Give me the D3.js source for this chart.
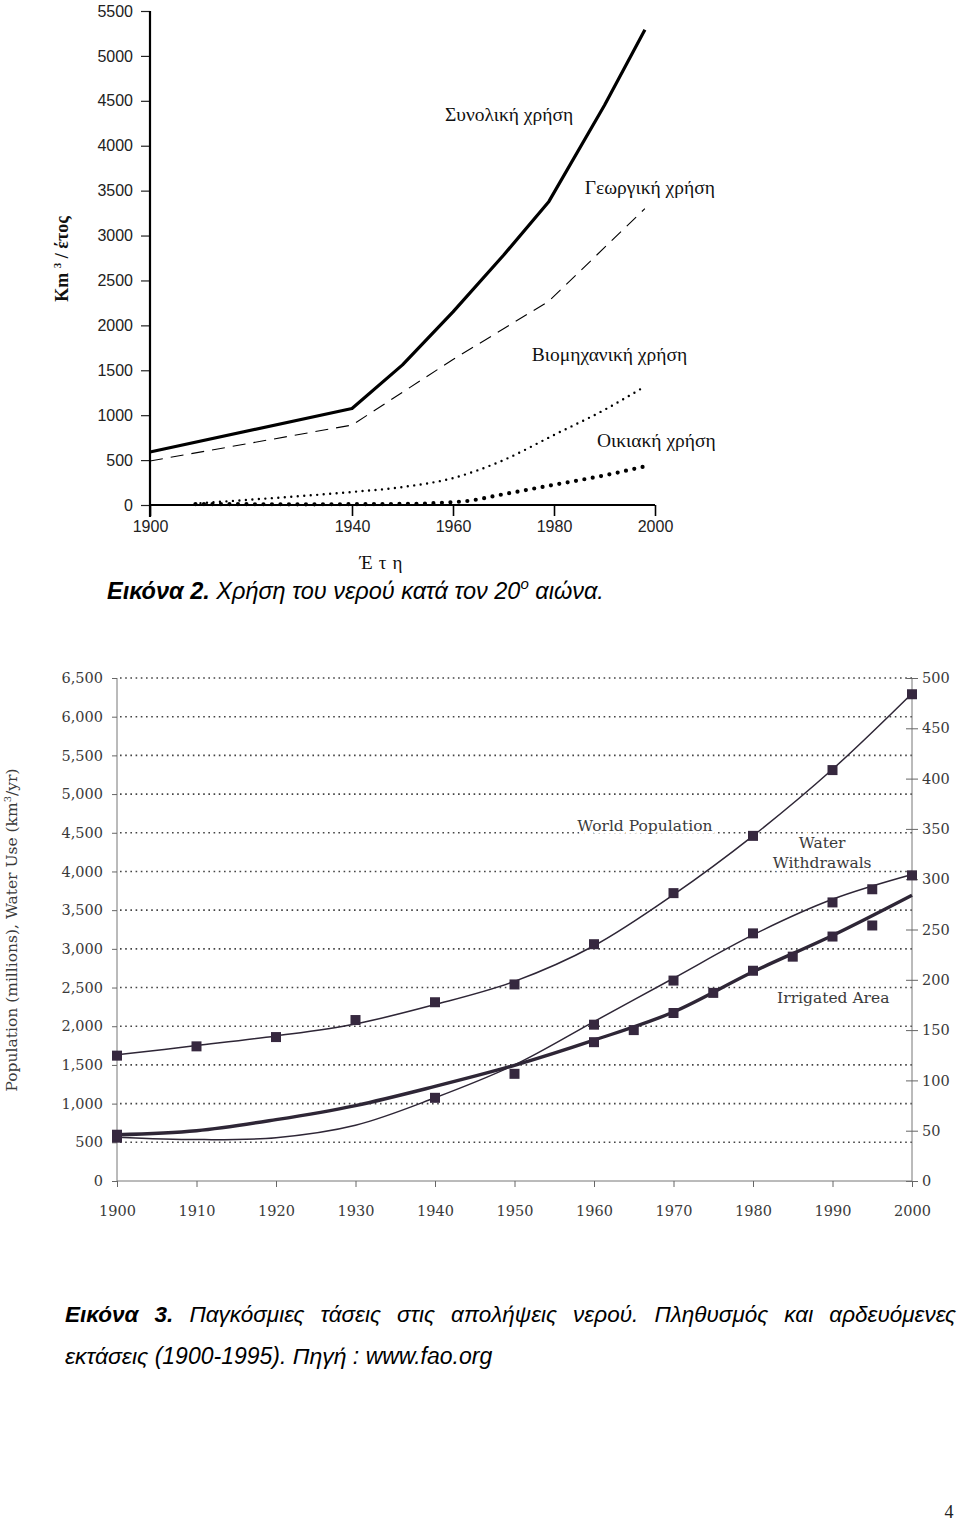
<!DOCTYPE html>
<html><head><meta charset="utf-8">
<script src="https://cdn.jsdelivr.net/npm/d3@7"></script>
<style>
html,body{margin:0;padding:0;background:#fff;}
svg{display:block;}
</style></head><body>
<svg id="page" width="960" height="1525"></svg>
<script>
// ================= Figure 2 data =================
const topXTicks = [1900, 1940, 1960, 1980, 2000];
const topYTicks = [0, 500, 1000, 1500, 2000, 2500, 3000, 3500, 4000, 4500, 5000, 5500];
const totalYears = [1900, 1940, 1950, 1960, 1970, 1979, 1990, 1998];
const totalUse   = [590, 1075, 1560, 2150, 2780, 3380, 4450, 5290];
const agriYears  = [1900, 1940, 1960, 1979, 1998];
const agriUse    = [490, 890, 1620, 2270, 3300];
const industryYears = [1910, 1920, 1930, 1940, 1950, 1960, 1970, 1980, 1990, 1998];
const industryUse   = [20, 60, 100, 145, 200, 300, 500, 780, 1060, 1320];
const domesticYears = [1909, 1930, 1950, 1962, 1970, 1980, 1990, 1998];
const domesticUse   = [10, 8, 12, 40, 120, 225, 330, 430];
const topLabels     = ["Συνολική χρήση", "Γεωργική χρήση", "Βιομηχανική χρήση", "Οικιακή χρήση"];
const topLabelYears = [1958.4, 1986.1, 1975.6, 1988.5];
const topLabelVals  = [4276, 3463, 1604, 646];

// ================= Figure 3 data =================
const decades = [1900, 1910, 1920, 1930, 1940, 1950, 1960, 1970, 1980, 1990, 2000];
const leftTicks  = [0, 500, 1000, 1500, 2000, 2500, 3000, 3500, 4000, 4500, 5000, 5500, 6000, 6500];
const rightTicks = [0, 50, 100, 150, 200, 250, 300, 350, 400, 450, 500];
const population    = [1620, 1740, 1860, 2080, 2310, 2540, 3060, 3720, 4460, 5310, 6290];
const populationFit = [1630, 1750, 1875, 2030, 2280, 2580, 3040, 3700, 4460, 5320, 6300];
const withdrawalYears = [1900, 1940, 1950, 1960, 1970, 1980, 1990, 1995, 2000];
const withdrawals     = [560, 1075, 1385, 2020, 2590, 3200, 3600, 3770, 3950];
const withdrawalFit   = [565, 535, 560, 720, 1075, 1500, 2060, 2620, 3180, 3640, 3960];
const irrigatedYears = [1900, 1960, 1965, 1970, 1975, 1980, 1985, 1990, 1995];
const irrigated      = [46, 138, 150, 167, 187, 209, 223, 243, 254];
const irrigatedFit   = [46, 50, 61, 75, 94, 115, 140, 168, 208, 244, 284];
const bottomLabels     = ["World Population", "Water", "Withdrawals", "Irrigated Area"];
const bottomLabelYears = [1966.4, 1988.7, 1988.7, 1990.1];
const bottomLabelVals  = [4528, 4308, 4049, 2303];

const caption2Bold = "Εικόνα 2.";
const caption2Text = " Χρήση του νερού κατά τον 20";
const caption2Sup  = "ο";
const caption2End  = " αιώνα.";
const caption3Bold = "Εικόνα 3.";
const caption3Line1 = " Παγκόσμιες τάσεις στις απολήψεις νερού. Πληθυσμός και αρδευόμενες";
const caption3Line2 = "εκτάσεις (1900-1995). Πηγή : www.fao.org";
const pageNumber = "4";

const svg = d3.select("#page");
const zip = (xs, vs) => xs.map((x, i) => ({x, v: vs[i]}));

// ================= Figure 2 =================
{
  const x = d3.scaleLinear().domain([1900, 2000]).range([150, 655]);
  const y = d3.scaleLinear().domain([0, 5500]).range([505, 11]);
  const g = svg.append("g");
  const sans = "Liberation Sans, Arial, sans-serif";

  const ya = g.append("g").attr("transform", `translate(${x(1900)},0)`)
    .call(d3.axisLeft(y).tickValues(topYTicks).tickSize(9).tickPadding(8).tickFormat(d3.format("d")));
  ya.select(".domain").remove();
  ya.selectAll("text").attr("font-family", sans).attr("font-size", 16).attr("fill", "#222");
  ya.selectAll("line").attr("stroke", "#222").attr("stroke-width", 1.2);
  g.append("line").attr("x1", x(1900)).attr("x2", x(1900)).attr("y1", y(5500)).attr("y2", y(0) + 12)
    .attr("stroke", "#000").attr("stroke-width", 2.2);

  const xa = g.append("g").attr("transform", `translate(0,${y(0)})`)
    .call(d3.axisBottom(x).tickValues(topXTicks).tickSize(11).tickPadding(5).tickFormat(d3.format("d")));
  xa.select(".domain").attr("stroke", "#000").attr("stroke-width", 2).attr("d", `M${x(1900)},0H${x(2000)}`);
  xa.selectAll("line").attr("stroke", "#000").attr("stroke-width", 1.6);
  xa.selectAll("text").attr("font-family", sans).attr("font-size", 16).attr("fill", "#222");

  const line = d3.line().x(d => x(d.x)).y(d => y(d.v));
  const smooth = d3.line().x(d => x(d.x)).y(d => y(d.v)).curve(d3.curveMonotoneX);

  g.append("path").attr("d", smooth(zip(domesticYears, domesticUse))).attr("fill", "none")
    .attr("stroke", "#000").attr("stroke-width", 4.2).attr("stroke-linecap", "round").attr("stroke-dasharray", "0 8.5");
  g.append("path").attr("d", smooth(zip(industryYears, industryUse))).attr("fill", "none")
    .attr("stroke", "#000").attr("stroke-width", 2.4).attr("stroke-linecap", "round").attr("stroke-dasharray", "0 6.5");
  g.append("path").attr("d", line(zip(agriYears, agriUse))).attr("fill", "none")
    .attr("stroke", "#000").attr("stroke-width", 1.1).attr("stroke-dasharray", "13 8");
  g.append("path").attr("d", line(zip(totalYears, totalUse))).attr("fill", "none")
    .attr("stroke", "#000").attr("stroke-width", 3.2).attr("stroke-linejoin", "round");

  g.selectAll("text.lab").data(topLabels).join("text").attr("class", "lab")
    .attr("x", (d, i) => x(topLabelYears[i])).attr("y", (d, i) => y(topLabelVals[i]))
    .attr("font-family", "Liberation Serif, Times New Roman, serif").attr("font-size", 19.5).attr("fill", "#111")
    .text(d => d);

  // y title
  g.append("text").attr("transform", `translate(68,259) rotate(-90)`).attr("text-anchor", "middle")
    .attr("font-family", "Liberation Serif, serif").attr("font-size", 18).attr("font-weight", "bold").attr("fill", "#111")
    .call(t => { t.append("tspan").text("Km "); t.append("tspan").attr("font-size", 11).attr("dy", -7).text("3");
                 t.append("tspan").attr("dy", 7).text(" / έτος"); });
  // x title
  g.append("text").attr("x", 384).attr("y", 569).attr("text-anchor", "middle")
    .attr("font-family", "Liberation Serif, serif").attr("font-size", 19).attr("letter-spacing", 6).attr("fill", "#111")
    .text("Έτη");

  // caption 2
  const c2 = g.append("text").attr("x", 107).attr("y", 599).attr("font-family", sans)
    .attr("font-size", 23.5).attr("font-style", "italic").attr("fill", "#000");
  c2.append("tspan").attr("font-weight", "bold").text(caption2Bold);
  c2.append("tspan").text(caption2Text);
  c2.append("tspan").attr("font-size", 15).attr("dy", -10).text(caption2Sup);
  c2.append("tspan").attr("dy", 10).text(caption2End);
}

// ================= Figure 3 =================
{
  const x = d3.scaleLinear().domain([1900, 2000]).range([117, 912]);
  const yL = d3.scaleLinear().domain([0, 6500]).range([1181, 678]);
  const yR = d3.scaleLinear().domain([0, 500]).range([1181, 678]);
  const g = svg.append("g");
  const ink = "#2e2636", mark = "#36283f", txt = "#3a3a3a";
  const serif = "DejaVu Serif, serif";

  // grid
  g.selectAll("line.grid").data(leftTicks.filter(d => d > 0)).join("line").attr("class", "grid")
    .attr("x1", x(1900) + 3).attr("x2", x(2000)).attr("y1", d => yL(d)).attr("y2", d => yL(d))
    .attr("stroke", "#444").attr("stroke-width", 1.6).attr("stroke-dasharray", "1.6 3.6");

  const la = g.append("g").attr("transform", `translate(${x(1900)},0)`)
    .call(d3.axisLeft(yL).tickValues(leftTicks).tickSize(5).tickPadding(9).tickFormat(d3.format(",")));
  la.select(".domain").attr("stroke", "#777").attr("d", `M0,${yL(0)}V${yL(6500)}`);
  la.selectAll("line").attr("stroke", "#666");
  la.selectAll("text").attr("font-family", serif).attr("font-size", 14.5).attr("fill", txt);

  const ra = g.append("g").attr("transform", `translate(${x(2000)},0)`)
    .call(d3.axisRight(yR).tickValues(rightTicks).tickSize(6).tickPadding(4).tickFormat(d3.format("d")));
  ra.select(".domain").attr("stroke", "#777").attr("d", `M0,${yR(0)}V${yR(500)}`);
  ra.selectAll(".tick line").attr("x1", -6).attr("stroke", "#666");
  ra.selectAll("text").attr("font-family", serif).attr("font-size", 14.5).attr("fill", txt);

  const ba = g.append("g").attr("transform", `translate(0,${yL(0)})`)
    .call(d3.axisBottom(x).tickValues(decades).tickSize(6).tickPadding(19).tickFormat(d3.format("d")));
  ba.select(".domain").attr("stroke", "#777").attr("d", `M${x(1900)},0H${x(2000)}`);
  ba.selectAll("line").attr("stroke", "#666");
  ba.selectAll("text").attr("font-family", serif).attr("font-size", 14.5).attr("fill", txt);

  const curve = (ys) => d3.line().x(d => x(d.x)).y(d => ys(d.v)).curve(d3.curveCatmullRom.alpha(0.5));

  g.append("path").attr("d", curve(yR)(zip(decades, irrigatedFit))).attr("fill", "none")
    .attr("stroke", ink).attr("stroke-width", 3.4);
  g.append("path").attr("d", curve(yL)(zip(decades, withdrawalFit))).attr("fill", "none")
    .attr("stroke", ink).attr("stroke-width", 1.5);
  g.append("path").attr("d", curve(yL)(zip(decades, populationFit))).attr("fill", "none")
    .attr("stroke", ink).attr("stroke-width", 1.5);

  const sq = 10;
  const squares = (data, ys) => g.append("g").selectAll("rect").data(data).join("rect")
    .attr("x", d => x(d.x) - sq / 2).attr("y", d => ys(d.v) - sq / 2).attr("width", sq).attr("height", sq)
    .attr("fill", mark);
  squares(zip(decades, population), yL);
  squares(zip(withdrawalYears, withdrawals), yL);
  squares(zip(irrigatedYears, irrigated), yR);

  g.selectAll("text.lab").data(bottomLabels).join("text").attr("class", "lab")
    .attr("x", (d, i) => x(bottomLabelYears[i])).attr("y", (d, i) => yL(bottomLabelVals[i]))
    .attr("text-anchor", "middle").attr("font-family", serif).attr("font-size", 15.5).attr("fill", txt)
    .attr("stroke", "#fff").attr("stroke-width", 5).attr("paint-order", "stroke")
    .text(d => d);

  g.append("text").attr("transform", `translate(17,930) rotate(-90)`).attr("text-anchor", "middle")
    .attr("font-family", serif).attr("font-size", 15.5).attr("fill", txt)
    .call(t => { t.append("tspan").text("Population (millions), Water Use (km");
                 t.append("tspan").attr("font-size", 10).attr("dy", -6).text("3");
                 t.append("tspan").attr("dy", 6).text("/yr)"); });

  // caption 3
  const c3 = g.append("text").attr("x", 65).attr("y", 1322).attr("font-family", "Liberation Sans, Arial, sans-serif")
    .attr("font-size", 22.5).attr("font-style", "italic").attr("fill", "#000");
  c3.append("tspan").attr("font-weight", "bold").text(caption3Bold);
  c3.append("tspan").text(caption3Line1);
  const natural = c3.node().getComputedTextLength();
  const spaces = (caption3Bold + caption3Line1).split(" ").length - 1;
  c3.attr("word-spacing", (956 - 65 - natural) / spaces);
  g.append("text").attr("x", 65).attr("y", 1364).attr("font-family", "Liberation Sans, Arial, sans-serif")
    .attr("font-size", 23).attr("font-style", "italic").attr("fill", "#000").text(caption3Line2);
}

svg.append("text").attr("x", 949).attr("y", 1518).attr("text-anchor", "middle")
  .attr("font-family", "Liberation Serif, serif").attr("font-size", 18).attr("fill", "#222").text(pageNumber);
</script>
</body></html>
